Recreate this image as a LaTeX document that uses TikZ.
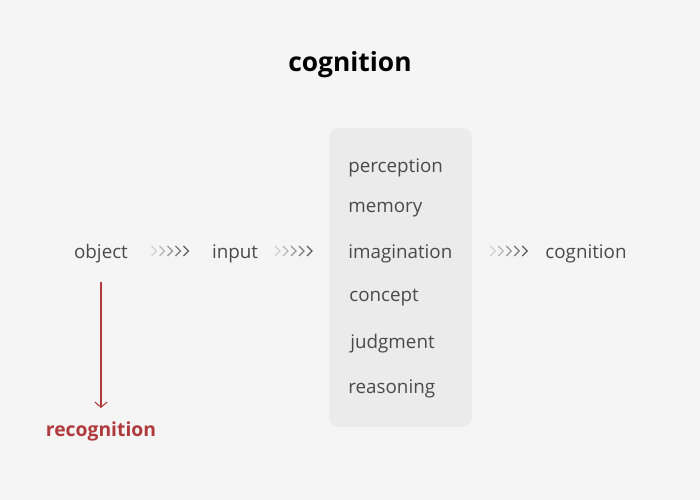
\documentclass[tikz,border=0pt]{standalone}
\usepackage{fontspec}
\setmainfont{Open Sans}
\usepackage{tikz}
\usetikzlibrary{positioning, arrows.meta, calc}
\definecolor{bgGray}{HTML}{F5F5F5}
\definecolor{boxGray}{HTML}{EBEBEB}
\definecolor{txtGray}{HTML}{4A4A4A}
\definecolor{recRed}{HTML}{B0393B}
\tikzstyle{word} = [text=txtGray, font=\fontsize{10.7}{12}\selectfont, inner sep=0pt]
\tikzstyle{item} = [word, anchor=west]
\tikzstyle{stage} = [rectangle, rounded corners=0.2cm, minimum width=2.86cm, minimum height=5.98cm, fill=boxGray, draw=none]
\tikzstyle{title} = [font=\fontsize{15}{18}\selectfont\bfseries, text=black]
\tikzstyle{redarrow} = [recRed, line width=0.6pt, -{Straight Barb[length=3pt, width=7pt]}]
% five chevrons, light to dark, centred between two nodes on the object line
\newcommand{\chevrons}[2]{%
  \coordinate (midx) at ($(#1.east)!0.5!(#2.west)$);
  \coordinate (mid) at ($(midx |- object) + (0,-3)$);
  \foreach \i/\shade in {-2/18, -1/28, 0/40, 1/52, 2/64} {
    \draw [black!\shade, line width=0.7pt, line join=miter]
      ([shift={(\i*8-2.5, -5)}]mid) -- ([shift={(\i*8+2.5, 0)}]mid) -- ([shift={(\i*8-2.5, 5)}]mid);
  }
}

\begin{document}
\begin{tikzpicture}[x=0.02cm, y=-0.02cm]

\fill [bgGray] (0,0) rectangle (700,500);

\node (title) [title] at (350,65) {cognition};

\node (object) [word] at (101,254) {object};
\node (input) [word] at (235,254) {input};

\node (stage) [stage] at (400.5,277.5) {};
\node (perception) [item] at (348,168) {perception};
\node (memory) [item] at (348,210) {memory};
\node (imagination) [item] at (348,254) {imagination};
\node (concept) [item] at (349,298) {concept};
\node (judgment) [item] at (350,344) {judgment};
\node (reasoning) [item] at (348,389) {reasoning};

\node (cognition) [word] at (586,254) {cognition};

\node (recognition) [word, text=recRed, font=\fontsize{11}{13}\selectfont\bfseries] at (101,431) {recognition};

\chevrons{object}{input}
\chevrons{input}{stage}
\chevrons{stage}{cognition}

\draw [redarrow, shorten <=0.36cm, shorten >=0.26cm] (object) -- (recognition);

\end{tikzpicture}
\end{document}
